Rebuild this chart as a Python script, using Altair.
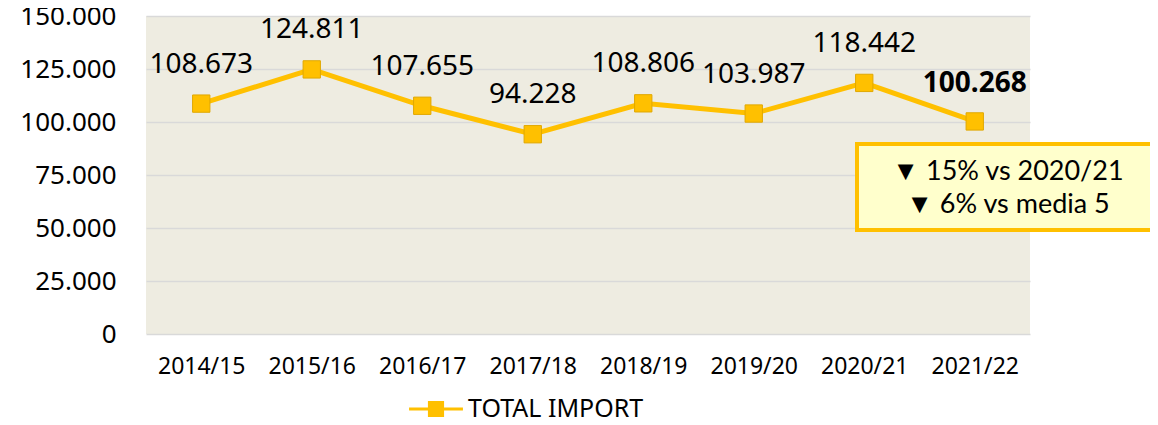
import altair as alt
import pandas as pd

periods = ["2014/15", "2015/16", "2016/17", "2017/18", "2018/19", "2019/20", "2020/21", "2021/22"]
values = [108673, 124811, 107655, 94228, 108806, 103987, 118442, 100268]
series_name = "TOTAL IMPORT"
note_lines = ["▼ 15% vs 2020/21", "▼ 6% vs media 5"]

df = pd.DataFrame({"period": periods, "value": values, "series": series_name})
df["label"] = [f"{v:,}".replace(",", ".") for v in values]
df["last"] = [p == periods[-1] for p in periods]

GOLD = "#FFC000"
FONT = "Noto Sans"

x = alt.X("period:N", sort=periods, title=None,
          scale=alt.Scale(paddingInner=0, paddingOuter=0),
          axis=alt.Axis(labelAngle=0, ticks=False, domain=False, labelFontSize=23,
                        labelPadding=21, labelFont=FONT, labelColor="#000000", grid=False))
y = alt.Y("value:Q", title=None,
          scale=alt.Scale(domain=[0, 150000], nice=False),
          axis=alt.Axis(values=[0, 25000, 50000, 75000, 100000, 125000, 150000],
                        labelExpr="replace(format(datum.value, ',d'), ',', '.')",
                        ticks=False, domain=False, labelFontSize=26, labelFont=FONT,
                        labelColor="#000000", labelPadding=30,
                        gridColor="#D9D9D9", gridWidth=1.5))

base = alt.Chart(df)

line = base.mark_line(color=GOLD, strokeWidth=5).encode(x=x, y=y)

points = base.mark_point(shape="square", filled=True, size=300, opacity=1,
                         stroke="#E0A800", strokeWidth=1).encode(
    x=x, y=y,
    color=alt.Color("series:N", title=None,
                    scale=alt.Scale(range=[GOLD]),
                    legend=alt.Legend(orient="none", legendX=263, legendY=366,
                                      direction="horizontal",
                                      symbolType="M-1,-0.06 H1 V0.06 H-1 Z M-0.3,-0.3 H0.3 V0.3 H-0.3 Z",
                                      symbolSize=2900, symbolStrokeWidth=0,
                                      symbolFillColor=GOLD,
                                      labelFontSize=25, labelFont=FONT, labelColor="#000000",
                                      labelOffset=5, labelLimit=0)),
)

labels = base.transform_filter("!datum.last").mark_text(
    fontSize=28, font=FONT, dy=-39, baseline="middle", color="#000000").encode(
    x=x, y=y, text="label:N")
label_last = base.transform_filter("datum.last").mark_text(
    fontSize=28, font=FONT, dy=-37, baseline="middle", color="#000000", fontWeight="bold").encode(
    x=x, y=y, text="label:N")

box = alt.Chart(pd.DataFrame({"a": [1]})).mark_rect(
    fill="#FFFFCC", stroke=GOLD, strokeWidth=4).encode(
    x=alt.value(711), x2=alt.value(1012), y=alt.value(128), y2=alt.value(214))

note1 = alt.Chart(pd.DataFrame({"line": [note_lines[0]]})).mark_text(
    fontSize=27, font="Lato", color="#000000", baseline="middle", align="center").encode(
    x=alt.value(862), y=alt.value(156), text="line:N")
note2 = alt.Chart(pd.DataFrame({"line": [note_lines[1]]})).mark_text(
    fontSize=27, font="Lato", color="#000000", baseline="middle", align="center").encode(
    x=alt.value(862), y=alt.value(189), text="line:N")

chart = alt.layer(line, points, labels, label_last, box, note1, note2).properties(
    width=884, height=318,
    autosize=alt.AutoSizeParams(type="none"),
    padding={"left": 138, "top": 8, "right": 120, "bottom": 91},
    background="#FFFFFF",
).configure_view(fill="#EEECE1", stroke=None)

chart.save("out.html", embed_options={"renderer": "svg", "actions": False})
